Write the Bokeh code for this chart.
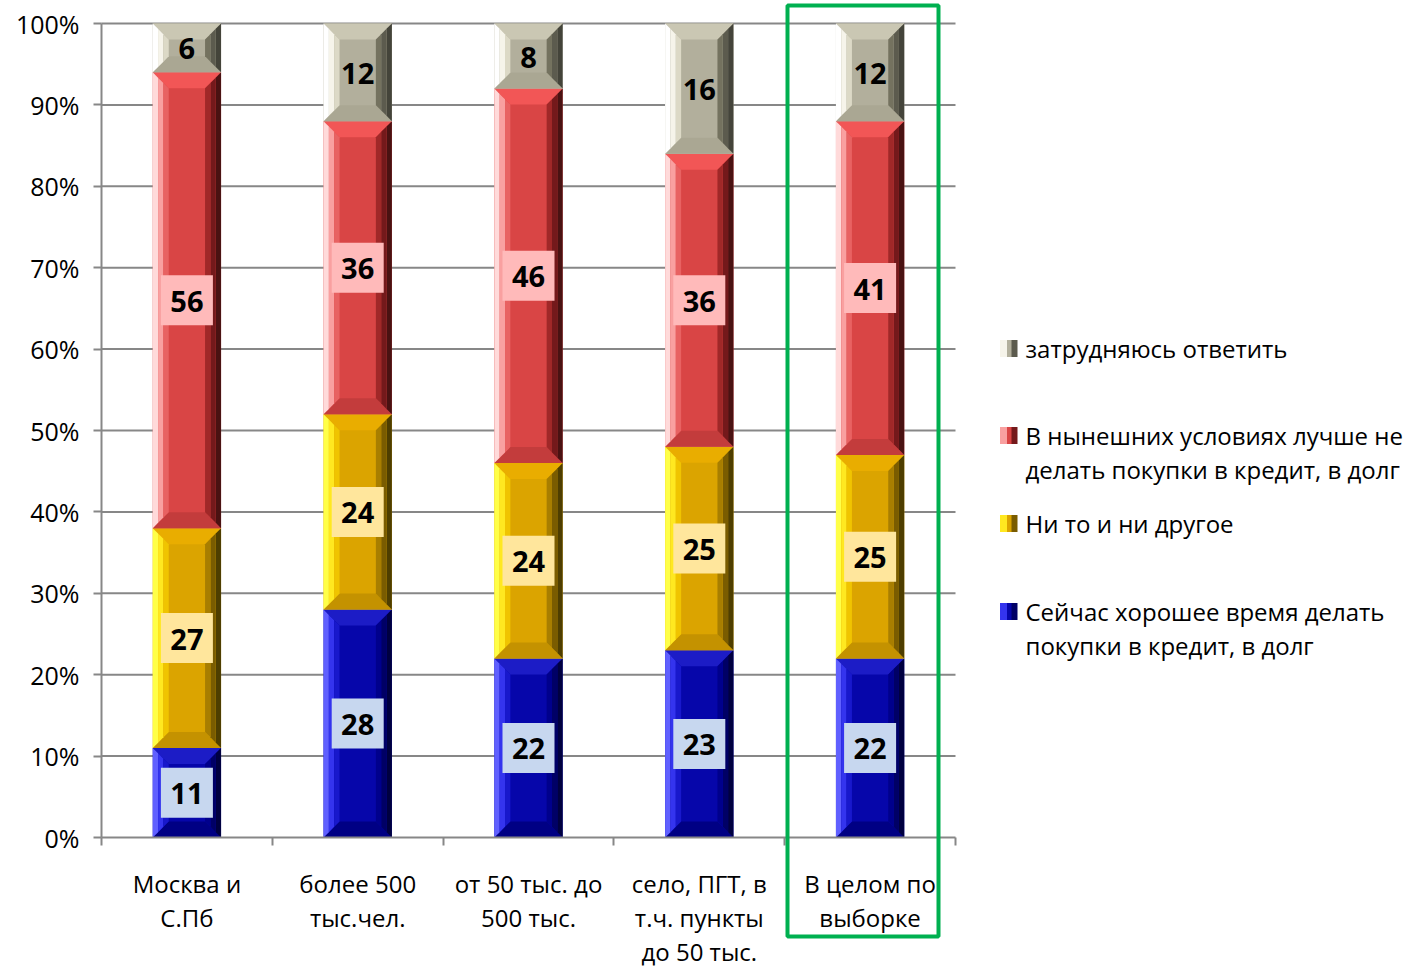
from bokeh.plotting import figure
from bokeh.models import Range1d, FixedTicker, BoxAnnotation
from bokeh.core.properties import value
from bokeh.embed import file_html
from bokeh.resources import INLINE

# ---------------- data ----------------
categories = [["Москва и", "С.Пб"], ["более 500", "тыс.чел."], ["от 50 тыс. до", "500 тыс."],
              ["село, ПГТ, в", "т.ч. пункты", "до 50 тыс."], ["В целом по", "выборке"]]
good_time = [11, 28, 22, 23, 22]      # Сейчас хорошее время ...
neither = [27, 24, 24, 25, 25]        # Ни то и ни другое
better_not = [56, 36, 46, 36, 41]     # В нынешних условиях лучше не ...
hard_to_say = [6, 12, 8, 16, 12]      # затрудняюсь ответить
series_values = [good_time, neither, better_not, hard_to_say]
series_labels = [
    ["Сейчас хорошее время делать", "покупки в кредит, в долг"],
    ["Ни то и ни другое"],
    ["В нынешних условиях лучше не", "делать покупки в кредит, в долг"],
    ["затрудняюсь ответить"],
]
y_ticks = [0, 10, 20, 30, 40, 50, 60, 70, 80, 90, 100]
highlight_index = 4

# ---------------- styles ----------------
styles = [
    dict(main="#0606aa", top="#1c1cc6", bot="#000084",
         left=["#6060ff", "#3434ee", "#1818cc"], right=["#00008c", "#000066", "#000040"], bg="#c7d7ef"),
    dict(main="#dba400", top="#e9ad00", bot="#c49200",
         left=["#ffff48", "#ffe820", "#f0c400"], right=["#a87e00", "#7a5c00", "#4e3e00"], bg="#ffe69c"),
    dict(main="#d94545", top="#f25656", bot="#c33c3c",
         left=["#ffdada", "#f9a0a0", "#e86262"], right=["#a02828", "#74191b", "#4a1212"], bg="#ffbaba"),
    dict(main="#b2af9c", top="#cac7b3", bot="#aaa793",
         left=["#ffffff", "#f6f4ea", "#dcd9c6"], right=["#74725f", "#5c5b4e", "#44443a"], bg=None),
]

W, H = 1410, 967
X0_PX, CAT_PX = 101.0, 170.8
Y0_PX, PX_PER = 837.0, 8.14

x_start = -X0_PX / CAT_PX
x_end = x_start + W / CAT_PX
y_end = 100 + (Y0_PX - 100 * PX_PER) / PX_PER
y_start = y_end - H / PX_PER


def sx(px):
    return (px - X0_PX) / CAT_PX


def sy(py):
    return (Y0_PX - py) / PX_PER


p = figure(width=W, height=H, output_backend="svg", toolbar_location=None,
           x_range=Range1d(x_start, x_end), y_range=Range1d(y_start, y_end),
           min_border=0, min_border_left=0, min_border_right=0,
           min_border_top=0, min_border_bottom=0)
p.outline_line_color = None
p.background_fill_color = "white"
p.border_fill_color = "white"
p.xgrid.visible = False
p.ygrid.visible = False

GRAY = "#878787"

# grid lines
p.segment(x0=[0] * (len(y_ticks) - 1), y0=y_ticks[1:], x1=[len(categories)] * (len(y_ticks) - 1),
          y1=y_ticks[1:], line_color=GRAY, line_width=2)

# ---------------- bars ----------------
half_w = 0.2
bx = 16 / CAT_PX
by = 16 / PX_PER
n_strip = 3

for s, vals in enumerate(series_values):
    st = styles[s]
    bottoms = [sum(series_values[k][i] for k in range(s)) for i in range(len(categories))]
    mains_x, mains_y = [], []
    top_x, top_y, bot_x, bot_y = [], [], [], []
    lefts = [([], []) for _ in range(n_strip)]
    rights = [([], []) for _ in range(n_strip)]
    for i, v in enumerate(vals):
        c = i + 0.5
        x0, x1 = c - half_w, c + half_w
        y0, y1 = bottoms[i], bottoms[i] + v
        mains_x.append([x0, x1, x1, x0]); mains_y.append([y0, y0, y1, y1])
        top_x.append([x0, x1, x1 - bx, x0 + bx]); top_y.append([y1, y1, y1 - by, y1 - by])
        bot_x.append([x0, x1, x1 - bx, x0 + bx]); bot_y.append([y0, y0, y0 + by, y0 + by])
        for k in range(n_strip):
            ta, tb = k / n_strip, (k + 1) / n_strip
            lefts[k][0].append([x0 + ta * bx, x0 + tb * bx, x0 + tb * bx, x0 + ta * bx])
            lefts[k][1].append([y0 + ta * by, y0 + tb * by, y1 - tb * by, y1 - ta * by])
            rights[k][0].append([x1 - tb * bx, x1 - ta * bx, x1 - ta * bx, x1 - tb * bx])
            rights[k][1].append([y0 + tb * by, y0 + ta * by, y1 - ta * by, y1 - tb * by])
    p.patches(mains_x, mains_y, fill_color=st["main"], line_color=None)
    p.patches(top_x, top_y, fill_color=st["top"], line_color=None)
    p.patches(bot_x, bot_y, fill_color=st["bot"], line_color=None)
    for k in range(n_strip):
        p.patches(lefts[k][0], lefts[k][1], fill_color=st["left"][k], line_color=None)
        p.patches(rights[k][0], rights[k][1], fill_color=st["right"][2 - k], line_color=None)

# ---------------- value labels ----------------
for s, vals in enumerate(series_values):
    st = styles[s]
    xs = [i + 0.5 for i in range(len(vals))]
    ys = [sum(series_values[k][i] for k in range(s)) + vals[i] / 2 for i in range(len(vals))]
    if st["bg"]:
        p.rect(x=xs, y=ys, width=52, height=50, width_units="screen", height_units="screen",
               fill_color=st["bg"], line_color=None)
    p.text(x=xs, y=ys, text=[str(v) for v in vals], text_align="center", text_baseline="middle",
           text_font=value("Open Sans"), text_font_style="bold", text_font_size="29px",
           text_color="black", y_offset=1)

# ---------------- axes ----------------
xa = p.xaxis[0]
xa.fixed_location = 0
xa.bounds = (0, len(categories))
xa.ticker = FixedTicker(ticks=[i + 0.5 for i in range(len(categories))],
                        minor_ticks=list(range(len(categories) + 1)))
xa.major_label_overrides = {i + 0.5: "" for i in range(len(categories))}
xa.major_tick_out = 0
xa.major_tick_in = 0
xa.minor_tick_out = 8
xa.minor_tick_in = 0
xa.minor_tick_line_color = GRAY
xa.minor_tick_line_width = 2
xa.axis_line_color = GRAY
xa.axis_line_width = 2

# category labels (one text per line, 34px apart)
cx, cy, ct = [], [], []
for i, lines in enumerate(categories):
    for j, t in enumerate(lines):
        cx.append(i + 0.5)
        cy.append(sy(883 + 34 * j))
        ct.append(t)
p.text(x=cx, y=cy, text=ct, text_align="center", text_baseline="middle",
       text_font=value("Open Sans"), text_font_size="24px", text_color="black")

ya = p.yaxis[0]
ya.fixed_location = 0
ya.bounds = (0, 100)
ya.ticker = FixedTicker(ticks=y_ticks)
ya.major_label_overrides = {t: f"{t}%" for t in y_ticks}
ya.major_tick_out = 8
ya.major_tick_in = 0
ya.minor_tick_out = 0
ya.minor_tick_in = 0
ya.major_tick_line_color = GRAY
ya.major_tick_line_width = 2
ya.axis_line_color = GRAY
ya.axis_line_width = 2
ya.major_label_text_font = "Open Sans"
ya.major_label_text_font_size = "25px"
ya.major_label_text_color = "black"
ya.major_label_standoff = 14

# ---------------- highlight box ----------------
p.add_layout(BoxAnnotation(left=sx(787), right=sx(938), top=sy(5), bottom=sy(936),
                           fill_color=None, line_color="#00b050", line_alpha=1.0, line_width=4))

# ---------------- legend ----------------
legend_rows_px = [611, 523, 435, 348]   # marker centres for series 0..3
line_gap_px = 34
for s in range(len(series_values)):
    st = styles[s]
    my = sy(legend_rows_px[s])
    p.rect(x=[sx(1008)], y=[my], width=17, height=17, width_units="screen", height_units="screen",
           fill_color=st["main"], line_color=None)
    p.rect(x=[sx(1003)], y=[my], width=7, height=17, width_units="screen", height_units="screen",
           fill_color=st["left"][1], line_color=None)
    p.rect(x=[sx(1014)], y=[my], width=6, height=17, width_units="screen", height_units="screen",
           fill_color=st["right"][1], line_color=None)
    lines = series_labels[s]
    p.text(x=[sx(1025)] * len(lines), y=[sy(legend_rows_px[s] + j * line_gap_px) for j in range(len(lines))],
           text=lines, text_align="left", text_baseline="middle",
           text_font=value("Open Sans"), text_font_size="24px", text_color="black")

open("out.html", "w").write(file_html(p, INLINE))
